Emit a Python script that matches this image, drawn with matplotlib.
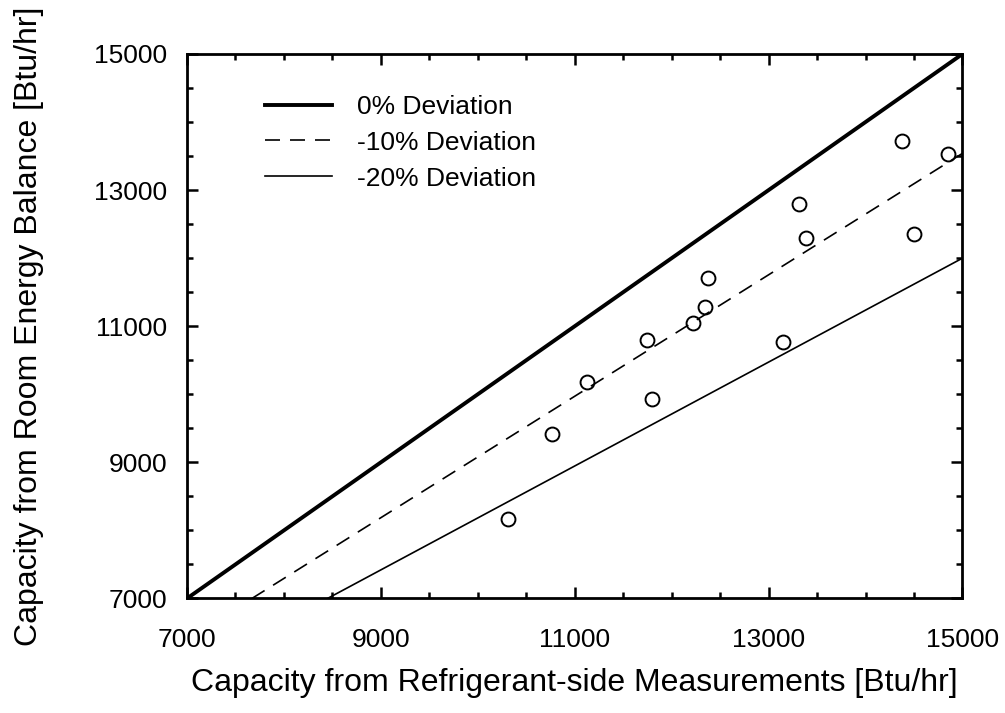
import matplotlib
matplotlib.use('Agg')
import matplotlib.pyplot as plt
from matplotlib.ticker import MultipleLocator

plt.rcParams['font.family'] = ['Liberation Sans', 'DejaVu Sans']

# measured points (refrigerant side vs room energy balance), Btu/hr
refrig_cap = [10314, 10765, 11123, 11794, 11748, 12223, 12344, 12371,
              13151, 13313, 13382, 14379, 14503, 14853]
room_cap = [8168, 9413, 10177, 9927, 10798, 11041, 11276, 11714,
            10773, 12796, 12301, 13726, 12356, 13531]

# deviation reference lines (end points)
dev_labels = ['0% Deviation', '-10% Deviation', '-20% Deviation']
dev_x = [[7000, 15000], [7670, 15000], [8450, 15000]]
dev_y = [[7000, 15000], [7000, 13540], [7000, 12000]]

ticks = [7000, 9000, 11000, 13000, 15000]

fig = plt.figure(figsize=(10.05, 7.13), dpi=100)
ax = fig.add_axes([0.186, 0.1606, 0.7717, 0.7637])

styles = [dict(color='black', lw=2.8, linestyle='-'),
          dict(color='black', lw=1.2, linestyle=(0, (9, 6))),
          dict(color='black', lw=1.2, linestyle='-')]
for i in range(len(dev_labels)):
    ax.plot(dev_x[i], dev_y[i], label=dev_labels[i], **styles[i])

ax.plot(refrig_cap, room_cap, linestyle='none', marker='o', markersize=10,
        markerfacecolor='none', markeredgecolor='black', markeredgewidth=1.4)

ax.set_xlim(7000, 15000)
ax.set_ylim(7000, 15000)
ax.set_xticks(ticks)
ax.set_yticks(ticks)
ax.xaxis.set_minor_locator(MultipleLocator(500))
ax.yaxis.set_minor_locator(MultipleLocator(500))
ax.tick_params(which='both', direction='in', top=True, right=True,
               width=1.8, labelsize=19)
ax.tick_params(which='major', length=8)
ax.tick_params(which='minor', length=4.5)
ax.tick_params(axis='x', which='major', pad=21)
ax.tick_params(axis='y', which='major', pad=14)
for s in ax.spines.values():
    s.set_linewidth(2.0)

ax.set_xlabel('Capacity from Refrigerant-side Measurements [Btu/hr]',
              fontsize=23, labelpad=12)
ax.set_ylabel('Capacity from Room Energy Balance [Btu/hr]', fontsize=23)
ax.yaxis.set_label_coords(-0.184, 0.5)

ax.legend(loc='upper left', bbox_to_anchor=(0.1006, 0.925), frameon=False,
          fontsize=19, handlelength=2.54, handletextpad=0.95, labelspacing=0.45,
          borderpad=0, borderaxespad=0)

fig.savefig('out.png', dpi=100)
